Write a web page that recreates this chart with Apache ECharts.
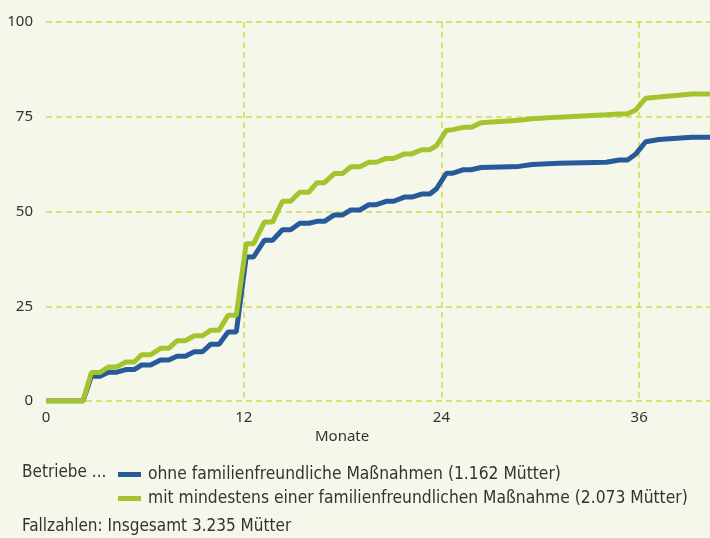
<!DOCTYPE html>
<html>
<head>
<meta charset="utf-8">
<script src="https://cdn.jsdelivr.net/npm/echarts@6/dist/echarts.min.js"></script>
<style>
html,body{margin:0;padding:0;background:#f5f7ea;}
#chart{width:710px;height:538px;}
</style>
</head>
<body>
<div id="chart"></div>
<script>
// Months (x positions of the curve points)
var months = [0, 2.25, 2.75, 3.25, 3.8, 4.3, 4.85, 5.35, 5.8, 6.35, 6.95, 7.45, 7.95, 8.45, 9.0, 9.5, 10.0, 10.5, 11.05, 11.55,
  12.15, 12.6, 13.25, 13.75, 14.35, 14.85, 15.4, 15.95, 16.45, 16.9, 17.5, 18.0, 18.5, 19.05, 19.6, 20.05, 20.65, 21.1, 21.75, 22.2,
  22.8, 23.3, 23.7, 24.3, 24.7, 25.3, 25.8, 26.4, 28.7, 29.5, 31.1, 34.0, 34.8, 35.3, 35.8, 36.4, 37.2, 39.2, 40.5];

// Betriebe ohne familienfreundliche Maßnahmen (cumulative %)
var ohneValues = [0, 0, 6.5, 6.5, 7.6, 7.6, 8.3, 8.3, 9.5, 9.5, 10.8, 10.8, 11.8, 11.8, 13.0, 13.0, 15.0, 15.0, 18.2, 18.2,
  38.0, 38.0, 42.4, 42.4, 45.2, 45.2, 46.9, 46.9, 47.4, 47.4, 49.1, 49.1, 50.4, 50.4, 51.8, 51.8, 52.7, 52.7, 53.8, 53.8,
  54.6, 54.6, 56.0, 60.1, 60.1, 61.0, 61.0, 61.6, 61.9, 62.4, 62.7, 63.0, 63.6, 63.6, 65.2, 68.4, 69.0, 69.6, 69.6];

// Betriebe mit mindestens einer familienfreundlichen Maßnahme (cumulative %)
var mitValues = [0, 0, 7.5, 7.5, 9.0, 9.0, 10.3, 10.3, 12.2, 12.2, 13.9, 13.9, 15.9, 15.9, 17.2, 17.2, 18.7, 18.7, 22.6, 22.6,
  41.5, 41.5, 47.2, 47.2, 52.7, 52.7, 55.1, 55.1, 57.6, 57.6, 60.0, 60.0, 61.8, 61.8, 63.0, 63.0, 64.0, 64.0, 65.2, 65.2,
  66.3, 66.3, 67.4, 71.4, 71.6, 72.2, 72.2, 73.4, 74.1, 74.5, 74.9, 75.5, 75.7, 75.8, 76.8, 79.9, 80.2, 81.0, 81.0];

var seriesNames = ['ohne familienfreundliche Maßnahmen (1.162 Mütter)', 'mit mindestens einer familienfreundlichen Maßnahme (2.073 Mütter)'];
var xTicks = [0, 12, 24, 36];
var yTicks = [0, 25, 50, 75, 100];

function pairs(xs, ys) { return xs.map(function (x, i) { return [x, ys[i]]; }); }

var textFont = '"DejaVu Sans Condensed", "Liberation Sans Narrow", sans-serif';
var gridColor = '#c9e04a';

var chart = echarts.init(document.getElementById('chart'), null, {renderer: 'canvas'});
chart.setOption({
  backgroundColor: '#f5f7ea',
  animation: false,
  grid: {left: 46, top: 22, right: 0, height: 379, containLabel: false},
  xAxis: {
    type: 'value', min: 0, max: 40.3, interval: 12,
    axisLine: {show: false}, axisTick: {show: false},
    axisLabel: {show: true, showMaxLabel: false, margin: 9, color: '#333', fontSize: 15, fontFamily: 'Noto Sans'},
    splitLine: {show: true, showMinLine: false, showMaxLine: false, lineStyle: {color: gridColor, type: [6, 4], width: 1.5}}
  },
  yAxis: {
    type: 'value', min: 0, max: 100, interval: 25,
    axisLine: {show: false}, axisTick: {show: false},
    axisLabel: {margin: 13, color: '#333', fontSize: 15, fontFamily: 'Noto Sans'},
    splitLine: {show: true, lineStyle: {color: gridColor, type: [6, 4], width: 1.5}}
  },
  legend: {
    orient: 'vertical', left: 113, top: 461, itemWidth: 23, itemHeight: 5, itemGap: 7,
    icon: 'rect', selectedMode: false,
    textStyle: {color: '#333', fontSize: 17.3, fontFamily: textFont, padding: [0, 0, 0, 2]},
    data: seriesNames
  },
  graphic: [
    {type: 'text', left: 22, top: 464, style: {text: 'Betriebe ...', fill: '#333', font: '17px ' + textFont}},
    {type: 'text', left: 22, top: 518, style: {text: 'Fallzahlen: Insgesamt 3.235 Mütter', fill: '#333', font: '17px ' + textFont}},
    {type: 'text', left: 315, top: 429, style: {text: 'Monate', fill: '#333', font: '15px "Noto Sans"'}}
  ],
  series: [
    {name: seriesNames[0], type: 'line', data: pairs(months, ohneValues), showSymbol: false,
      lineStyle: {color: '#275a99', width: 5}, itemStyle: {color: '#275a99'}, z: 2},
    {name: seriesNames[1], type: 'line', data: pairs(months, mitValues), showSymbol: false,
      lineStyle: {color: '#a4c42e', width: 5}, itemStyle: {color: '#a4c42e'}, z: 3}
  ]
});
</script>
</body>
</html>
